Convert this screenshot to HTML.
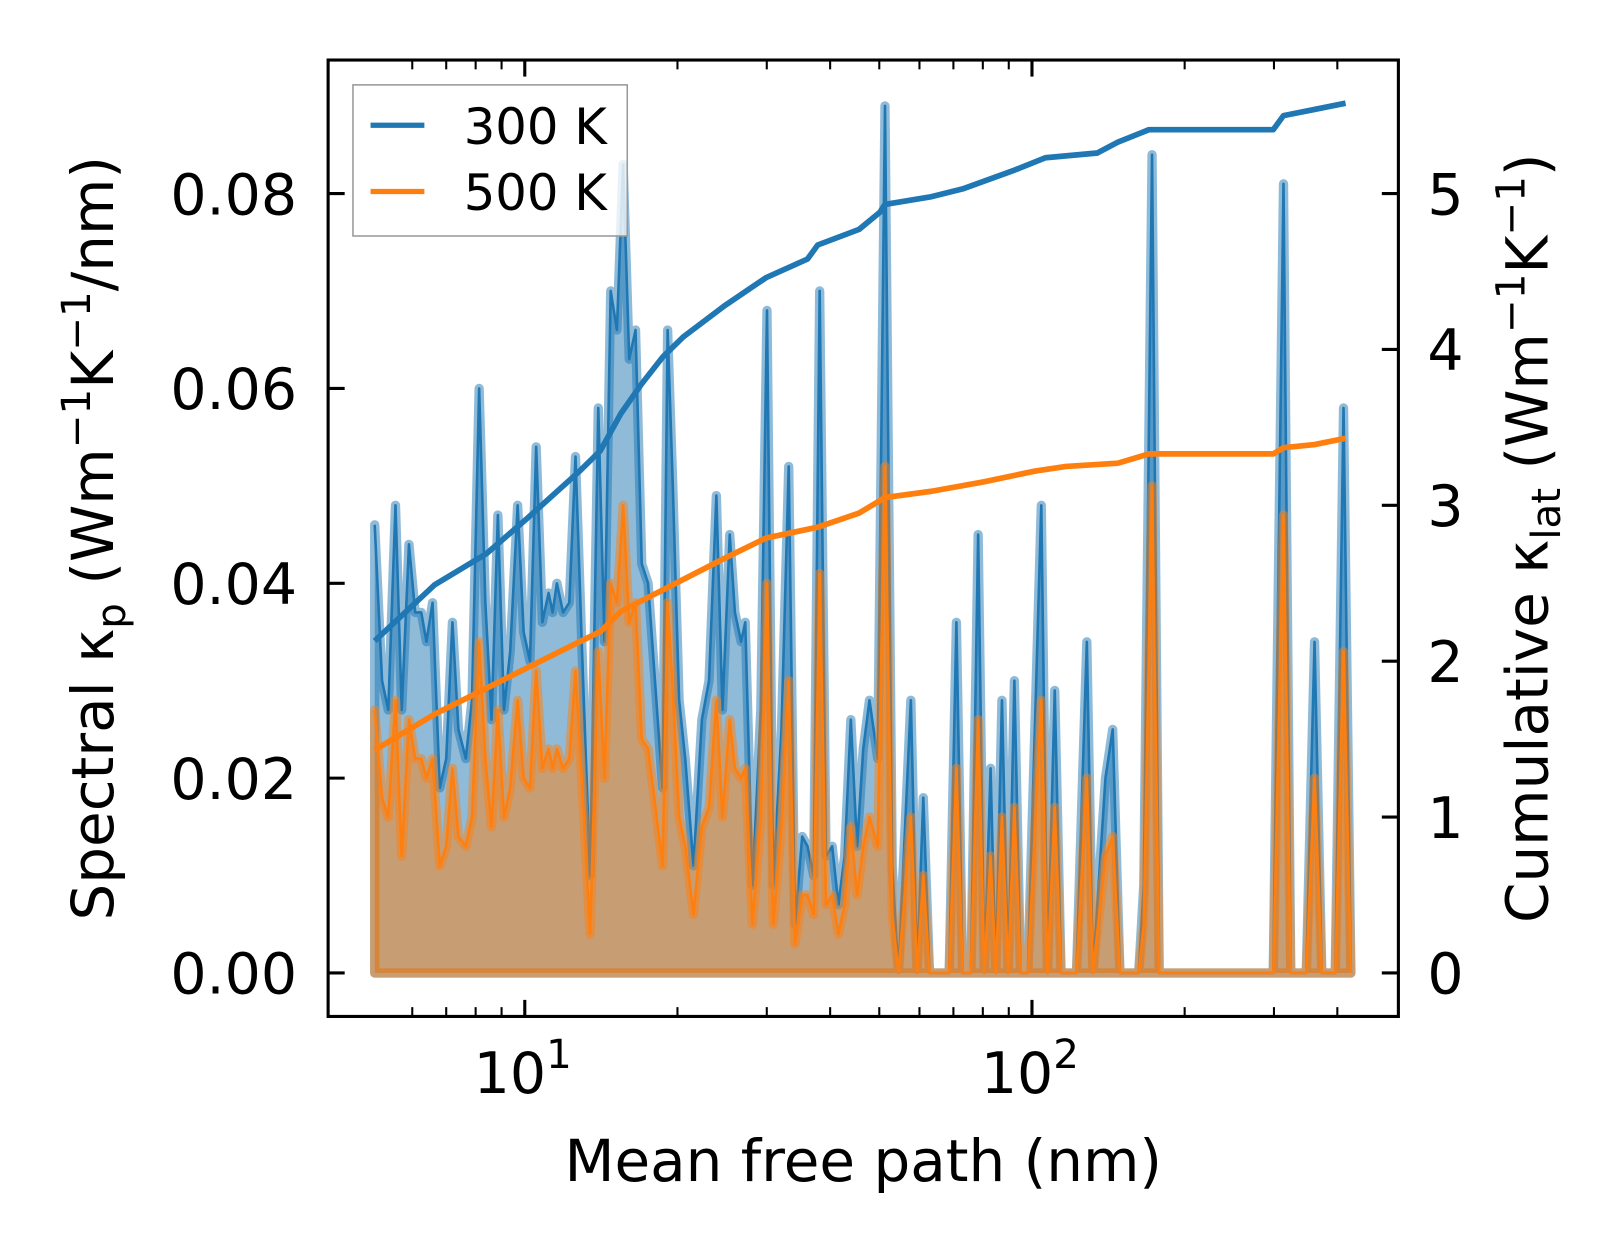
<!DOCTYPE html>
<html><head><meta charset="utf-8">
<style>
html,body{margin:0;padding:0;background:#fff;}
svg text{font-family:"DejaVu Sans","Liberation Sans",sans-serif;fill:#000;}
</style></head>
<body>
<svg id="chart" width="1623" height="1254" viewBox="0 0 1568 1211.5" preserveAspectRatio="none" xmlns="http://www.w3.org/2000/svg">
<defs><clipPath id="clip"><rect x="317" y="58" width="1034" height="924"/></clipPath></defs>
<g id="plot" clip-path="url(#clip)"></g>
<g id="axes"></g>
</svg>
<script>
// Spectral data (mean free path in nm, spectral kappa)
const mfp = [5.06,5.23,5.38,5.56,5.72,5.91,6.08,6.25,6.40,6.58,6.80,7.00,7.20,7.40,7.65,7.87,8.13,8.36,8.60,8.85,9.10,9.36,9.68,9.95,10.24,10.53,10.83,11.14,11.35,11.57,11.90,12.24,12.59,12.95,13.45,13.96,14.36,14.77,15.19,15.63,16.07,16.53,17.01,17.50,18.00,18.69,19.13,19.58,20.15,20.72,21.51,22.34,23.08,23.86,24.54,25.36,25.96,26.70,27.21,28.12,29.20,30.03,30.89,32.07,33.14,34.10,35.24,36.08,37.11,38.15,39.26,40.37,41.53,42.72,43.95,45.20,46.49,47.82,49.65,51.31,53.03,54.55,56.10,57.71,59.36,61.06,62.81,66.44,68.67,70.96,72.99,75.79,78.32,80.55,82.86,84.83,87.26,89.76,92.33,94.97,98.13,104.3,107.3,110.9,114.1,122.4,128.3,131.9,139.6,144.3,149.1,162.3,166.1,172.5,178.2,299.0,313.3,323.8,347.4,360.7,372.8,396.3,411.5,425.3];
const spec300 = [0.046,0.030,0.027,0.048,0.027,0.044,0.037,0.037,0.034,0.038,0.019,0.022,0.036,0.025,0.022,0.028,0.060,0.038,0.026,0.047,0.027,0.033,0.048,0.035,0.032,0.054,0.036,0.039,0.037,0.040,0.037,0.038,0.053,0.034,0.010,0.058,0.034,0.070,0.066,0.083,0.063,0.066,0.042,0.040,0.031,0.019,0.066,0.050,0.028,0.022,0.011,0.026,0.030,0.049,0.027,0.045,0.037,0.034,0.036,0.009,0.027,0.068,0.009,0.025,0.052,0.005,0.014,0.013,0.010,0.070,0.012,0.013,0.007,0.012,0.026,0.013,0.023,0.028,0.022,0.089,0.011,0.000,0.014,0.028,0.000,0.018,0.000,0.000,0.000,0.036,0.000,0.000,0.045,0.000,0.021,0.000,0.028,0.000,0.030,0.000,0.000,0.048,0.000,0.029,0.000,0.000,0.034,0.000,0.020,0.025,0.000,0.000,0.009,0.084,0.000,0.000,0.081,0.000,0.000,0.034,0.000,0.000,0.058,0.000];
const spec500 = [0.027,0.018,0.016,0.028,0.012,0.026,0.022,0.022,0.020,0.022,0.011,0.013,0.021,0.014,0.013,0.016,0.034,0.022,0.015,0.027,0.016,0.019,0.028,0.020,0.019,0.031,0.021,0.023,0.021,0.023,0.021,0.022,0.031,0.020,0.004,0.033,0.020,0.040,0.038,0.048,0.036,0.038,0.024,0.023,0.018,0.011,0.038,0.029,0.016,0.013,0.006,0.015,0.017,0.028,0.016,0.026,0.021,0.020,0.021,0.005,0.016,0.040,0.005,0.015,0.030,0.003,0.008,0.008,0.006,0.041,0.007,0.008,0.004,0.007,0.015,0.008,0.013,0.016,0.013,0.052,0.006,0.000,0.008,0.016,0.000,0.010,0.000,0.000,0.000,0.021,0.000,0.000,0.026,0.000,0.012,0.000,0.016,0.000,0.017,0.000,0.000,0.028,0.000,0.017,0.000,0.000,0.020,0.000,0.012,0.014,0.000,0.000,0.005,0.050,0.000,0.000,0.047,0.000,0.000,0.020,0.000,0.000,0.033,0.000];
// Cumulative data
const cumX300 = [5.06,6.64,8.40,10.14,12.83,14.09,15.48,17.01,18.69,20.52,24.77,29.89,36.08,37.80,45.62,50.12,51.31,63.39,72.99,92.33,106.3,134.5,147.7,170.1,299.0,313.3,360.7,415.4];
const cum300 = [2.13,2.49,2.69,2.92,3.22,3.35,3.59,3.78,3.95,4.08,4.28,4.46,4.58,4.67,4.77,4.88,4.93,4.98,5.03,5.15,5.23,5.26,5.33,5.41,5.41,5.50,5.54,5.58];
const cumX500 = [5.06,6.64,8.81,11.68,14.09,15.48,19.58,24.77,29.89,37.80,45.62,51.31,63.39,80.18,101.4,116.8,147.7,170.1,299.0,313.3,360.7,415.4];
const cum500 = [1.43,1.66,1.86,2.06,2.19,2.32,2.49,2.66,2.79,2.86,2.95,3.05,3.09,3.15,3.22,3.25,3.27,3.33,3.33,3.37,3.39,3.43];
const yTicksLeft = [0,0.02,0.04,0.06,0.08];
const yTickLabelsLeft = ["0.00","0.02","0.04","0.06","0.08"];
const yTicksRight = [0,1,2,3,4,5];
const xMajor = [10,100];
const xMinor = [6,7,8,9,20,30,40,50,60,70,80,90,200,300,400];

const L=317,R=1351,T=58,B=982;
const xs = v => 507 + (Math.log10(v)-1)*490;
const yl = v => 940 - v/0.02*188.25;
const yr = v => 940 - v*150.6;
const NS="http://www.w3.org/2000/svg";
const plot=document.getElementById('plot'), axes=document.getElementById('axes');
function mk(tag,attrs,parent){const e=document.createElementNS(NS,tag);for(const k in attrs)e.setAttribute(k,attrs[k]);parent.appendChild(e);return e;}

function spectral(vals,color,name){
  let pts=mfp.map((m,i)=>xs(m).toFixed(1)+','+yl(vals[i]).toFixed(1));
  const fillD='M'+xs(mfp[0])+','+yl(0)+' L'+pts.join(' L')+' L'+xs(mfp[mfp.length-1])+','+yl(0)+' Z';
  const f=mk('path',{d:fillD,fill:color,'fill-opacity':0.5,stroke:color,'stroke-opacity':0.5,'stroke-width':9,'stroke-linejoin':'round'},plot);
  
  
  const l=mk('path',{d:'M'+pts.join(' L'),fill:'none',stroke:color,'stroke-width':2.5,'stroke-linejoin':'round'},plot);
  
  
}
spectral(spec300,'#1f77b4','spectral-300k');
spectral(spec500,'#ff7f0e','spectral-500k');

function cum(xv,yv,color,name){
  const d='M'+xv.map((m,i)=>xs(m).toFixed(1)+','+yr(yv[i]).toFixed(1)).join(' L');
  const p=mk('path',{d:d,fill:'none',stroke:color,'stroke-width':5.5,'stroke-linejoin':'round'},plot);
  
  
}
cum(cumX300,cum300,'#1f77b4','cumulative-300k-line');
cum(cumX500,cum500,'#ff7f0e','cumulative-500k-line');

const fr=mk('rect',{x:L,y:T,width:R-L,height:B-T,fill:'none',stroke:'#000','stroke-width':3},axes);


yTicksLeft.forEach((v,i)=>{
  const y=yl(v);
  mk('line',{x1:L,x2:L+16,y1:y,y2:y,stroke:'#000','stroke-width':3},axes);
  const t=mk('text',{x:L-30,y:y+20,'font-size':55,'text-anchor':'end'},axes);
  t.textContent=yTickLabelsLeft[i];
  
  
});
yTicksRight.forEach(v=>{
  const y=yr(v);
  mk('line',{x1:R-16,x2:R,y1:y,y2:y,stroke:'#000','stroke-width':3},axes);
  const t=mk('text',{x:R+28,y:y+20,'font-size':55},axes);
  t.textContent=String(v);
  
  
});
xMajor.forEach((v,i)=>{
  const x=xs(v);
  mk('line',{x1:x,x2:x,y1:B,y2:B-16,stroke:'#000','stroke-width':3},axes);
  mk('line',{x1:x,x2:x,y1:T,y2:T+16,stroke:'#000','stroke-width':3},axes);
  const t=mk('text',{x:x-2,y:1056,'font-size':55,'text-anchor':'middle'},axes);
  t.textContent='10';
  const s=mk('tspan',{dy:-24,'font-size':39},t);
  s.textContent=String(i+1);
  
  
});
xMinor.forEach(v=>{
  const x=xs(v);
  mk('line',{x1:x,x2:x,y1:B,y2:B-9,stroke:'#000','stroke-width':2},axes);
  mk('line',{x1:x,x2:x,y1:T,y2:T+9,stroke:'#000','stroke-width':2},axes);
});
</script>
<svg style="position:absolute;left:0;top:0" width="1623" height="1254" viewBox="0 0 1568 1211.5" preserveAspectRatio="none">
<text x="834" y="1141" font-size="56" text-anchor="middle" style="font-family:'DejaVu Sans',sans-serif">Mean free path (nm)</text>
<text transform="translate(109,520) rotate(-90)" font-size="56" text-anchor="middle" style="font-family:'DejaVu Sans',sans-serif">Spectral κ<tspan font-size="39" dy="12">p</tspan><tspan dy="-12"> (Wm</tspan><tspan font-size="39" dy="-22">−1</tspan><tspan dy="22">K</tspan><tspan font-size="39" dy="-22">−1</tspan><tspan dy="22">/nm)</tspan></text>
<text transform="translate(1495,520) rotate(-90)" font-size="56" text-anchor="middle" style="font-family:'DejaVu Sans',sans-serif">Cumulative κ<tspan font-size="39" dy="12">lat</tspan><tspan dy="-12"> (Wm</tspan><tspan font-size="39" dy="-22">−1</tspan><tspan dy="22">K</tspan><tspan font-size="39" dy="-22">−1</tspan><tspan dy="22">)</tspan></text>
<g>
<rect x="341" y="82" width="265" height="146" fill="#fff" fill-opacity="0.8" stroke="#999" stroke-width="1.5"/>
<line x1="358" x2="410" y1="121" y2="121" stroke="#1f77b4" stroke-width="5"/>
<text x="448" y="139" font-size="48" style="font-family:'DejaVu Sans',sans-serif">300 K</text>
<line x1="358" x2="410" y1="185" y2="185" stroke="#ff7f0e" stroke-width="5"/>
<text x="448" y="203" font-size="48" style="font-family:'DejaVu Sans',sans-serif">500 K</text>
</g>
</svg>
</body></html>
